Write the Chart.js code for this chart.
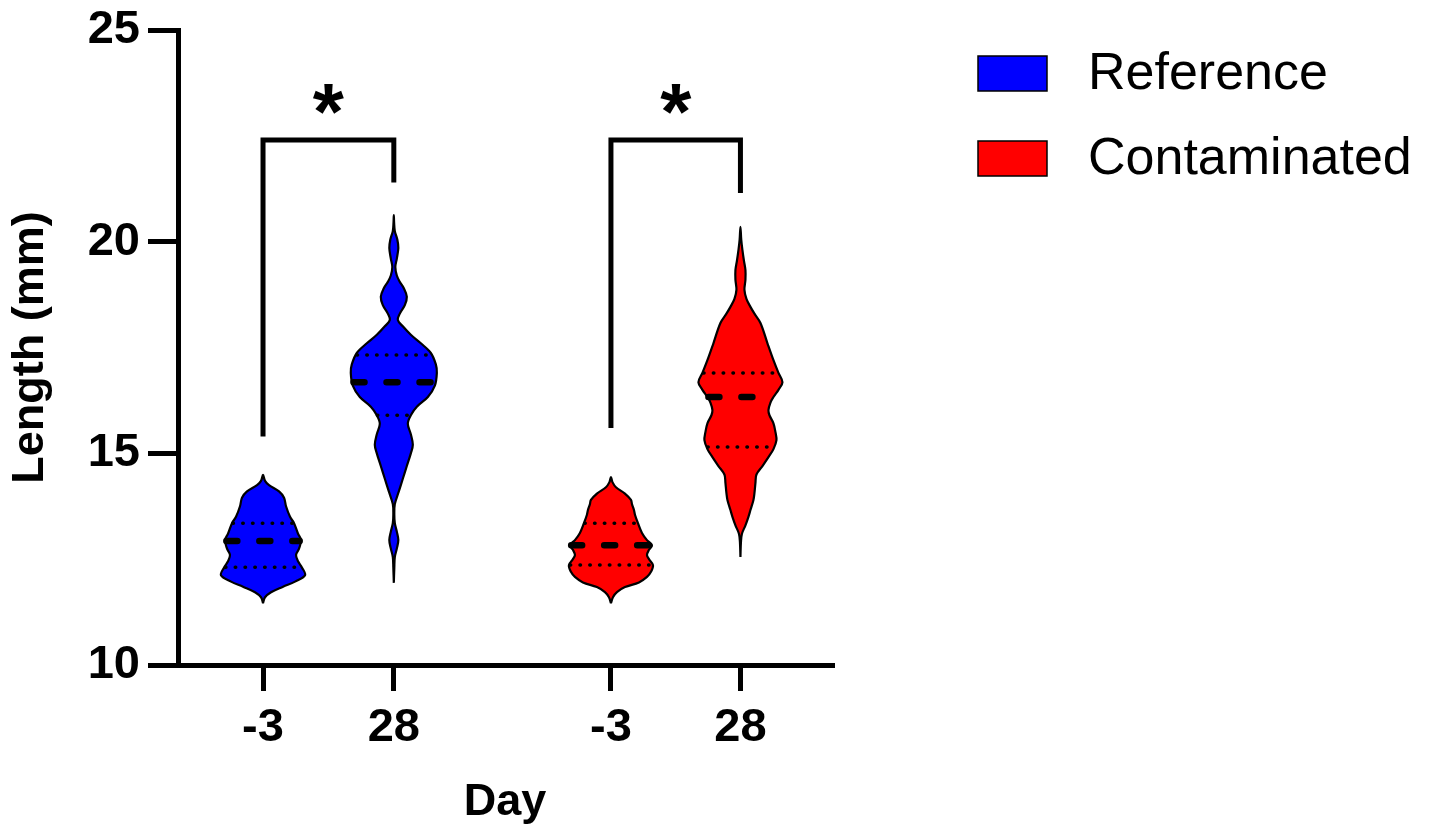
<!DOCTYPE html>
<html>
<head>
<meta charset="utf-8">
<script src="https://cdn.jsdelivr.net/npm/chart.js@4.4.1/dist/chart.umd.min.js"></script>
<style>
  html, body { margin: 0; padding: 0; background: #fff; }
  #wrap { width: 1434px; height: 825px; }
</style>
</head>
<body>
<div id="wrap"><canvas id="violinChart"></canvas></div>
<script>
const categories = ['-3', '28', '-3', '28'];
const categoryPositions = [0.65, 1.65, 3.31, 4.3];
const seriesNames = ['Reference', 'Contaminated'];
const seriesOfViolin = [0, 0, 1, 1];
const yTicks = [10, 15, 20, 25];

// density profile of each violin (length in mm, relative density)
const refStartLevels = [11.46, 11.6, 11.72, 11.85, 11.97, 12.12, 12.3, 12.45, 12.6, 12.75, 12.95, 13.1, 13.35, 13.5, 13.75, 13.95, 14.1, 14.25, 14.35, 14.49];
const refStartDensity = [0, 2, 8, 20, 32, 42, 39, 35, 33, 36, 38, 35, 31, 27, 23, 21, 16, 6, 2, 0];

const refEndLevels = [11.94, 12.3, 12.55, 12.75, 12.95, 13.15, 13.35, 13.55, 13.8, 14.1, 14.4, 14.7, 15.0, 15.2, 15.45, 15.7, 15.9, 16.1, 16.33, 16.6, 16.9, 17.1, 17.37, 17.6, 17.8, 18.0, 18.15, 18.3, 18.5, 18.7, 18.9, 19.05, 19.2, 19.4, 19.6, 19.85, 20.05, 20.25, 20.45, 20.63];
const refEndDensity = [0, 0.5, 1, 3, 4.5, 3, 1, 0.5, 1, 5, 9, 13, 17, 19, 17, 14, 17, 23, 34, 41, 43, 42, 37, 27, 17, 9, 4, 6, 11, 13, 10, 6, 3, 1.5, 3, 4.5, 3.5, 1, 0.3, 0];

const conStartLevels = [11.46, 11.6, 11.72, 11.84, 11.95, 12.08, 12.2, 12.36, 12.5, 12.6, 12.72, 12.83, 12.95, 13.12, 13.35, 13.55, 13.66, 13.8, 13.9, 14.05, 14.2, 14.32, 14.44];
const conStartDensity = [0, 2, 6, 14, 28, 36, 40, 42, 38, 36, 38, 41, 36, 31, 27, 24, 23, 21, 20, 14, 5, 1.5, 0];

const conEndLevels = [12.55, 12.9, 13.1, 13.3, 13.5, 13.66, 13.9, 14.06, 14.3, 14.5, 14.7, 14.91, 15.1, 15.31, 15.5, 15.71, 15.9, 16.02, 16.2, 16.33, 16.5, 16.68, 16.9, 17.2, 17.6, 18.08, 18.3, 18.46, 18.65, 18.86, 19.1, 19.33, 19.55, 19.8, 20.05, 20.35];
const conEndDensity = [0, 0.5, 1.5, 5, 8, 10, 13, 14, 15, 16, 22, 28, 33, 36, 35, 33, 29, 28, 30, 33, 38, 42, 38, 33, 27, 20, 14, 10, 6, 4, 5, 5, 3.5, 2, 0.8, 0];

const violinLevels = [refStartLevels, refEndLevels, conStartLevels, conEndLevels];
const violinDensity = [refStartDensity, refEndDensity, conStartDensity, conEndDensity];

const medians = [12.93, 16.68, 12.83, 16.33];
const lowerQuartiles = [12.31, 15.9, 12.36, 15.15];
const upperQuartiles = [13.35, 17.32, 13.35, 16.9];

// significance brackets between violins
const bracketPairs = [[0, 1], [2, 3]];
const bracketTop = [22.4, 22.4];
const bracketLeftEnd = [15.4, 15.6];
const bracketRightEnd = [21.4, 21.15];
const bracketLabels = ['*', '*'];

const family = '"Liberation Sans", Arial, sans-serif';
const fillColors = ['#0000ff', '#ff0000'];
const densityToX = 0.00765;

function widthAt(levels, density, v) {
    for (let i = 0; i < levels.length - 1; i++) {
        if (v >= levels[i] && v <= levels[i + 1]) {
            const t = (v - levels[i]) / (levels[i + 1] - levels[i]);
            return (density[i] + t * (density[i + 1] - density[i])) * densityToX;
        }
    }
    return 0;
}

const datasets = [];

// quartile and median lines, drawn on top
violinLevels.forEach((levels, i) => {
    const c = categoryPositions[i];
    const lines = [
        { v: lowerQuartiles[i], dash: [0.5, 9.3], width: 3.5 },
        { v: upperQuartiles[i], dash: [0.5, 9.3], width: 3.5 },
        { v: medians[i], dash: [11, 22], width: 6.5 }
    ];
    lines.forEach(l => {
        const w = widthAt(levels, violinDensity[i], l.v) * 0.97;
        datasets.push({
            data: [{ x: c - w, y: l.v }, { x: c + w, y: l.v }],
            borderColor: '#000',
            borderWidth: l.width,
            borderDash: l.dash,
            borderCapStyle: 'round',
            pointRadius: 0,
            fill: false,
            order: 1
        });
    });
});

// violins
violinLevels.forEach((levels, i) => {
    const c = categoryPositions[i];
    const dens = violinDensity[i];
    const pts = [];
    levels.forEach((v, k) => pts.push({ x: c + dens[k] * densityToX, y: v }));
    for (let k = levels.length - 2; k >= 0; k--) pts.push({ x: c - dens[k] * densityToX, y: levels[k] });
    datasets.push({
        label: seriesNames[seriesOfViolin[i]],
        data: pts,
        borderColor: '#000',
        borderWidth: 2.2,
        backgroundColor: fillColors[seriesOfViolin[i]],
        fill: 'shape',
        tension: 0.35,
        pointRadius: 0,
        order: 3
    });
});

// brackets
bracketPairs.forEach((p, i) => {
    const a = categoryPositions[p[0]];
    const b = categoryPositions[p[1]];
    datasets.push({
        data: [{ x: a, y: bracketLeftEnd[i] }, { x: a, y: bracketTop[i] }, { x: b, y: bracketTop[i] }, { x: b, y: bracketRightEnd[i] }],
        borderColor: '#000',
        borderWidth: 5,
        borderJoinStyle: 'miter',
        borderCapStyle: 'butt',
        pointRadius: 0,
        fill: false,
        tension: 0,
        order: 1
    });
});

const annotations = {
    id: 'annotations',
    afterDatasetsDraw(chart) {
        const { ctx, scales: { x, y } } = chart;
        ctx.save();
        ctx.fillStyle = '#000';
        ctx.textAlign = 'center';
        ctx.textBaseline = 'middle';
        ctx.font = 'bold 80px ' + family;
        bracketPairs.forEach((p, i) => {
            const mid = (categoryPositions[p[0]] + categoryPositions[p[1]]) / 2;
            ctx.fillText(bracketLabels[i], x.getPixelForValue(mid), y.getPixelForValue(bracketTop[i]) - 23);
        });
        // legend
        ctx.textAlign = 'left';
        ctx.font = '52px ' + family;
        seriesNames.forEach((name, i) => {
            const top = 56 + i * 85;
            ctx.fillStyle = fillColors[i];
            ctx.fillRect(978, top, 69, 35);
            ctx.strokeStyle = '#000';
            ctx.lineWidth = 1.5;
            ctx.strokeRect(978, top, 69, 35);
            ctx.fillStyle = '#000';
            ctx.fillText(name, 1088, top + 19);
        });
        ctx.restore();
    }
};

new Chart(document.getElementById('violinChart'), {
    type: 'line',
    data: { datasets },
    options: {
        responsive: true,
        maintainAspectRatio: false,
        animation: false,
        layout: { padding: { left: 4, top: 30, right: 602, bottom: 0 } },
        plugins: {
            legend: { display: false },
            tooltip: { enabled: false }
        },
        scales: {
            x: {
                type: 'linear',
                min: 0,
                max: 5,
                afterBuildTicks: s => { s.ticks = categoryPositions.map(v => ({ value: v })); },
                afterFit: s => { s.height = 160; s.paddingLeft = 0; s.paddingRight = 0; },
                border: { color: '#000', width: 5 },
                grid: { display: true, drawOnChartArea: false, color: '#000', lineWidth: 5, tickLength: 26 },
                ticks: {
                    color: '#000',
                    autoSkip: false,
                    maxRotation: 0,
                    padding: 9,
                    font: { size: 47, weight: 'bold', family },
                    callback: (v, idx) => categories[idx]
                },
                title: { display: true, text: 'Day', color: '#000', padding: { top: 0, bottom: -5 }, font: { size: 45, weight: 'bold', family } }
            },
            y: {
                min: 10,
                max: 25,
                afterBuildTicks: s => { s.ticks = yTicks.map(v => ({ value: v })); },
                afterFit: s => { s.width = 174; s.paddingTop = 0; s.paddingBottom = 0; },
                border: { color: '#000', width: 5 },
                grid: { display: true, drawOnChartArea: false, color: '#000', lineWidth: 5, tickLength: 30 },
                ticks: { color: '#000', padding: 8, font: { size: 47, weight: 'bold', family } },
                title: { display: true, text: 'Length (mm)', color: '#000', padding: { top: 0, bottom: 0 }, font: { size: 45, weight: 'bold', family } }
            }
        }
    },
    plugins: [annotations]
});
</script>
</body>
</html>
